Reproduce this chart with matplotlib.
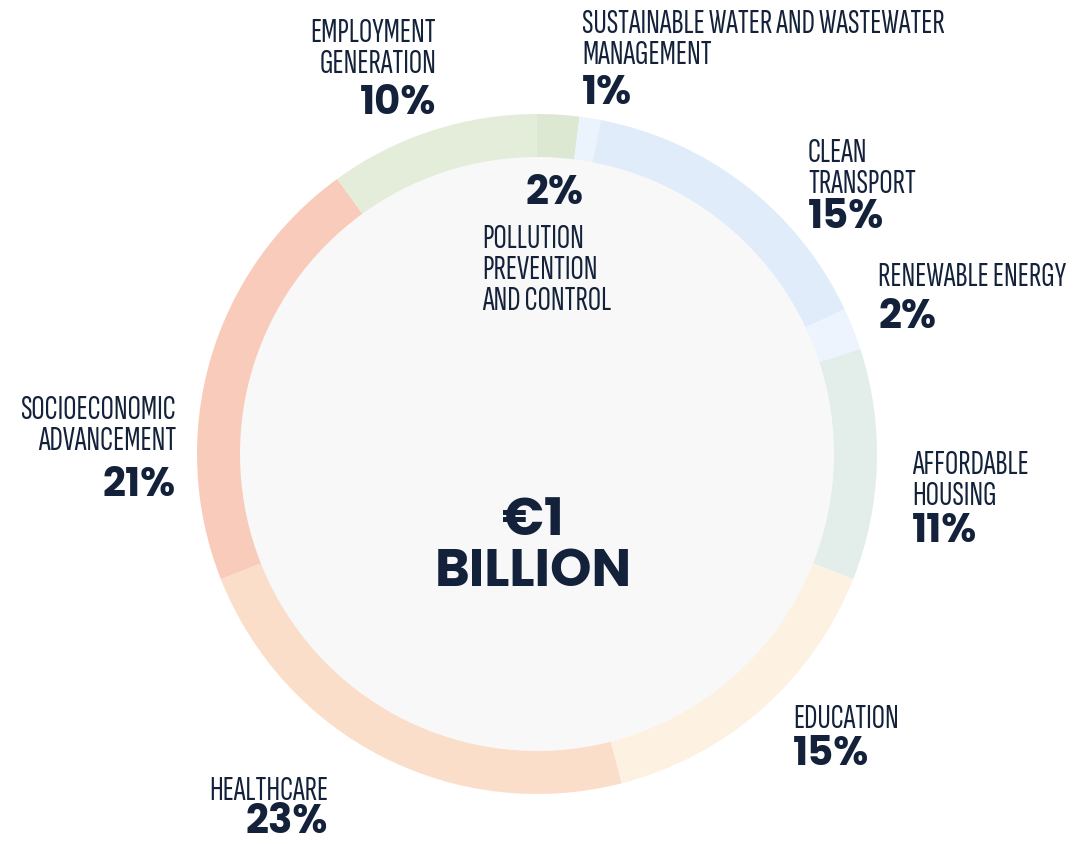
import matplotlib
matplotlib.use('Agg')
import matplotlib.pyplot as plt
from matplotlib.patches import Circle

# data (clockwise from 12 o'clock)
labels = ['POLLUTION\nPREVENTION\nAND CONTROL', 'SUSTAINABLE WATER AND WASTEWATER\nMANAGEMENT',
          'CLEAN\nTRANSPORT', 'RENEWABLE ENERGY', 'AFFORDABLE\nHOUSING', 'EDUCATION',
          'HEALTHCARE', 'SOCIOECONOMIC\nADVANCEMENT', 'EMPLOYMENT\nGENERATION']
shares = [2, 1, 15, 2, 11, 15, 23, 21, 10]
colors = ['#dce8d2', '#ebf3fc', '#e0ecf9', '#edf4fd', '#e3ede9',
          '#fdf1e2', '#fbdeca', '#f9cbbb', '#e3edd9']
total_label = '€1\nBILLION'

navy = '#13223a'
W, H = 1077, 845
fig = plt.figure(figsize=(W / 100, H / 100), dpi=100)
ax = fig.add_axes([0, 0, 1, 1])
ax.set_xlim(0, W)
ax.set_ylim(0, H)
ax.set_aspect('equal')
ax.axis('off')

cx, cy = 537, H - 455
r_out, ring = 340, 43
ax.pie(shares, colors=colors, startangle=90, counterclock=False,
       radius=r_out, center=(cx, cy), wedgeprops=dict(width=ring, linewidth=0))
ax.add_patch(Circle((cx, cy), r_out - ring, color='#f8f8f8', zorder=0))
ax.set_xlim(0, W)
ax.set_ylim(0, H)

narrow = ['Sofia Sans Extra Condensed', 'Archivo Narrow', 'DejaVu Sans']
bold = ['Poppins', 'DejaVu Sans']
lab_kw = dict(family=narrow, fontsize=24, fontweight='medium', color=navy, linespacing=1.05)
pct_kw = dict(family=bold, fontsize=29, fontweight='bold', color=navy)

# (label x, label top y, pct y, align) in pixel coords
pos = [
    (482, 224, 195, 'left'),
    (582, 9, 95, 'left'),
    (808, 138, 218, 'left'),
    (878, 262, 318, 'left'),
    (912, 450, 532, 'left'),
    (793, 704, 756, 'left'),
    (328, 776, 824, 'right'),
    (176, 395, 487, 'right'),
    (436, 18, 105, 'right'),
]
for lab, s, (x, ty, py, ha) in zip(labels, shares, pos):
    ax.text(x, H - ty, lab, ha=ha, va='top', **lab_kw)
    px = x
    if lab.startswith('POLLUTION'):
        px = 525
    ax.text(px, H - py, f'{s}%', ha=ha, va='center', **pct_kw)

ax.text(533, H - 548, total_label, ha='center', va='center', family=bold,
        fontsize=38, fontweight='bold', color=navy, linespacing=0.95)

fig.savefig('out.png', dpi=100)
